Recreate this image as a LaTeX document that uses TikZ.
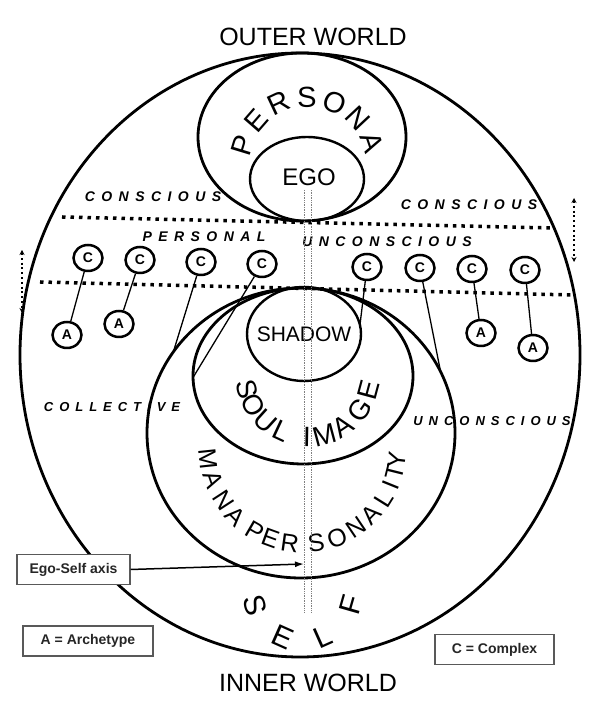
\documentclass[tikz,border=0pt]{standalone}
\usepackage{fontspec}
\setmainfont{Liberation Sans}
\newfontfamily\layerfont{Liberation Sans Bold Italic}[LetterSpace=46]
\usetikzlibrary{arrows.meta,
positioning,
calc,
shapes.geometric}

\begin{document}
\begin{tikzpicture}[
x=1pt, y=1pt,
>={Latex[length=9pt,width=6pt]},
ring/.style={draw, line width=2.8pt},
thinring/.style={draw, line width=2.4pt},
boundary/.style={line width=3.5pt, dash pattern=on 3.5pt off 5pt},
updown/.style={line width=2pt, dash pattern=on 2pt off 2.8pt,
{Stealth[length=5pt,width=5pt]}-{Stealth[length=5pt,width=5pt]}},
axisline/.style={gray, line width=0.7pt, densely dotted},
layerlabel/.style={font=\layerfont\fontsize{14}{16}\selectfont},
lowlabel/.style={font=\layerfont\fontsize{13}{15}\selectfont},
complex/.style={
draw,
ellipse,
line width=2.5pt,
minimum width=29pt,
minimum height=26pt,
inner sep=0pt,
font=\bfseries\fontsize{14}{16}\selectfont
},
link/.style={line width=1.3pt},
bigletter/.style={inner sep=0pt, font=\fontsize{29}{31}\selectfont},
keybox/.style={
draw=black!65,
fill=white,
line width=1.2pt,
minimum height=30pt,
inner sep=0pt,
text=black!85,
font=\bfseries\fontsize{14}{16}\selectfont
},
world/.style={font=\fontsize{25}{30}\selectfont}
]
\useasboundingbox (0,0) rectangle (600,703);

% Centres
\coordinate (self) at (300,348);
\coordinate (persona) at (302,566);
\coordinate (egoC) at (307,524);
\coordinate (shadow) at (304,369);
\coordinate (soul) at (303,327);
\coordinate (mana) at (301,270);

% Worlds
\node[world] (outer) at (313,666) {OUTER WORLD};
\node[world] (inner) at (308,20) {INNER WORLD};

% Rings
\draw[ring] (self) ellipse [x radius=280, y radius=302];
\draw[ring] (persona) ellipse [x radius=104, y radius=84];
\draw[thinring] (egoC) ellipse [x radius=57, y radius=42];
\draw[thinring] (shadow) ellipse [x radius=57, y radius=47];
\draw[ring] (soul) ellipse [x radius=110, y radius=88];
\draw[ring] (mana) ellipse [x radius=154, y radius=145];

\node[font=\fontsize{24}{26}\selectfont] (ego) at (309,526) {EGO};
\node[font=\fontsize{21}{24}\selectfont] (shadowtext) at (304,369) {SHADOW};

% Curved names
\foreach \ch/\ang [count=\i] in {P/163,E/139,R/115,S/91,O/67,N/43,A/19}
  \node[bigletter, rotate=\ang-90] (persona-\i) at ($(308,538)+(\ang:68)$) {\ch};
\foreach \ch/\ang [count=\i] in {S/194,O/210,U/228,L/245,I/269,M/285,A/304,G/325,E/345}
  \node[bigletter, font=\fontsize{28}{30}\selectfont, rotate=\ang+90] (soul-\i) at ($(308,329)+(\ang:63)$) {\ch};
\foreach \ch/\ang [count=\i] in {M/186,A/199,N/213,A/225,P/240,E/250,R/262,S/278,O/291,N/304,A/316,L/328,I/338,T/346,Y/353}
  \node[bigletter, font=\fontsize{25}{28}\selectfont, rotate=\ang+90] (mana-\i) at ($(303,254)+(\ang:95)$) {\ch};
\foreach \ch/\ang [count=\i] in {S/196,E/246,L/294,F/344}
  \node[bigletter, font=\fontsize{30}{32}\selectfont, rotate=\ang+90] (self-\i) at ($(303,112)+(\ang:50)$) {\ch};

% Layers
\draw[boundary] (62,486) -- (552,475);
\draw[boundary] (40,421) -- (572,408);
\draw[updown] (22,453) -- (22,390);
\draw[updown] (574,505) -- (574,441);

\node[layerlabel] (consc-l) at (153,506) {CONSCIOUS};
\node[layerlabel] (consc-r) at (469,498) {CONSCIOUS};
\node[layerlabel] (personal) at (204,466) {PERSONAL};
\node[layerlabel] (unconsc) at (387,461) {UNCONSCIOUS};
\node[lowlabel] (collective) at (112,296) {COLLECTIVE};
\node[lowlabel] (unconsc-low) at (492,282) {UNCONSCIOUS};

% Ego-Self axis
\draw[axisline] (304,513) -- (304,91);
\draw[axisline] (311,513) -- (311,91);

% Complexes and archetypes
\node[complex] (c1) at (88,445) {C};
\node[complex] (c2) at (140,443) {C};
\node[complex] (c3) at (201,441) {C};
\node[complex] (c4) at (262,439) {C};
\node[complex] (c5) at (367,436) {C};
\node[complex] (c6) at (420,435) {C};
\node[complex] (c7) at (472,434) {C};
\node[complex] (c8) at (525,433) {C};

\node[complex] (a1) at (67,368) {A};
\node[complex] (a2) at (119,379) {A};
\node[complex] (a3) at (481,370) {A};
\node[complex] (a4) at (533,355) {A};

\coordinate (m3) at ($(mana)+(146:154 and 145)$);
\coordinate (s4) at ($(soul)+(181:110 and 88)$);
\coordinate (h5) at ($(shadow)+(11:57 and 47)$);
\coordinate (m6) at ($(mana)+(25:154 and 145)$);

\draw[link] (c1) -- (a1);
\draw[link] (c2) -- (a2);
\draw[link] (c7) -- (a3);
\draw[link] (c8) -- (a4);
\draw[link] (c3) -- (m3);
\draw[link] (c4) -- (s4);
\draw[link] (c5) -- (h5);
\draw[link] (c6) -- (m6);

% Keys
\node[keybox, minimum width=113pt] (egoself) at (73.5,133.5) {Ego-Self axis};
\coordinate (axistip) at (304,139);
\draw[->, line width=1.5pt] (egoself.east) -- (axistip);

\node[keybox, minimum width=130pt] (archetype) at (88,62) {A = Archetype};
\node[keybox, minimum width=119pt] (complexkey) at (494.5,53.5) {C = Complex};

\end{tikzpicture}
\end{document}
